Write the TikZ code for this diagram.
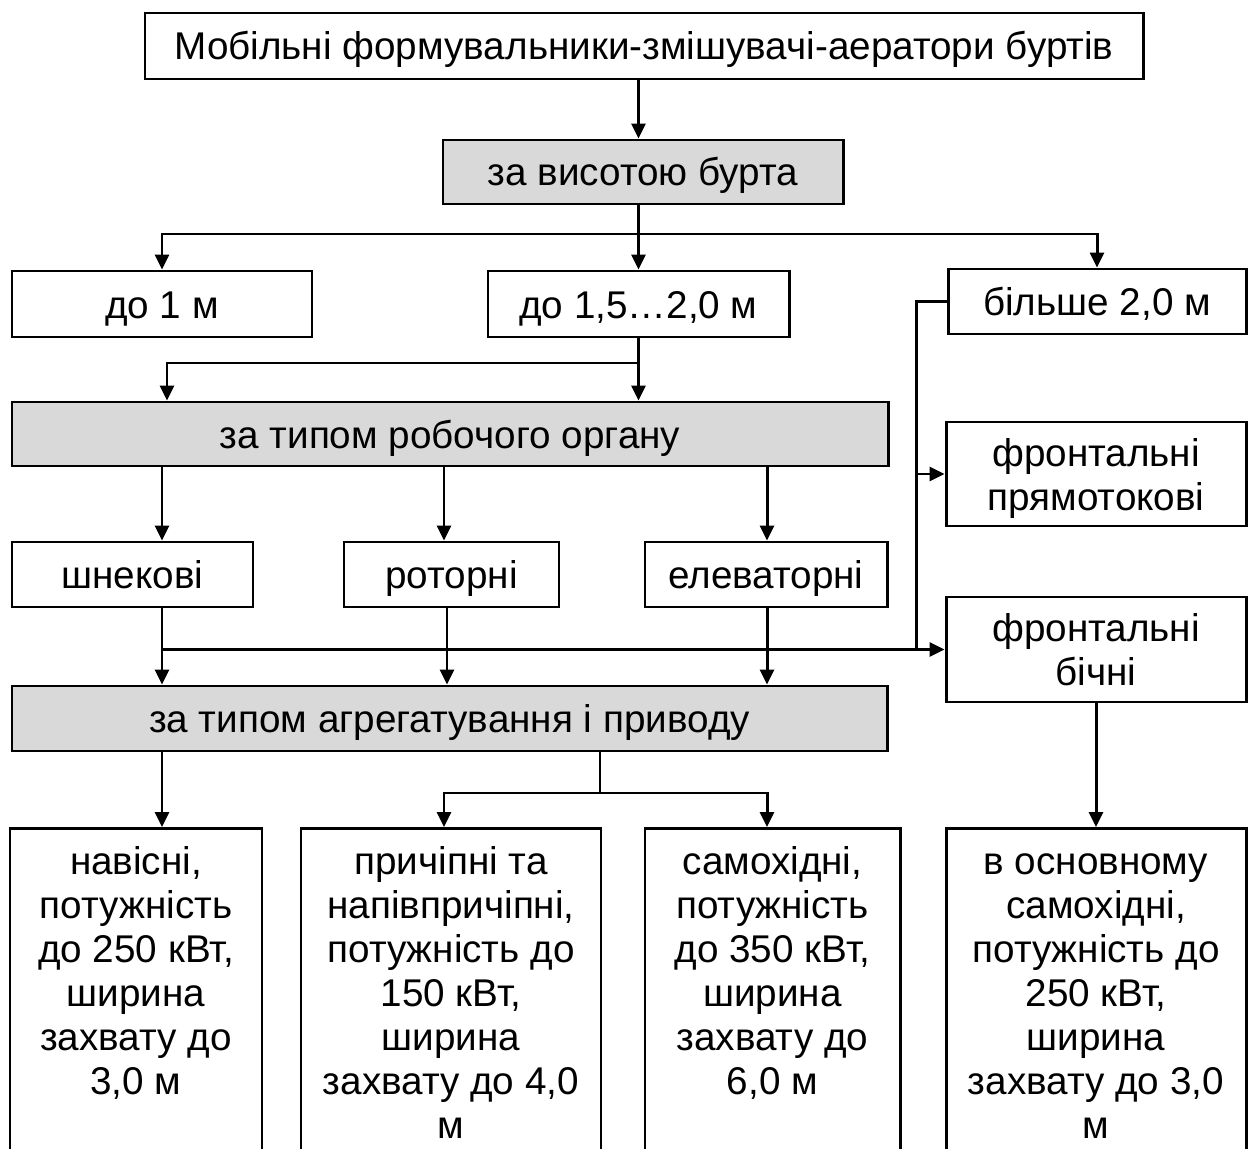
\documentclass[tikz,border=0pt]{standalone}
\usepackage{fontspec}
\setmainfont{Liberation Sans}
\usetikzlibrary{arrows.meta}
\tikzset{
	box/.style={draw, line width=1.7pt, fill=white, inner sep=0pt, align=center, font=\fontsize{22}{25}\selectfont},
	onebox/.style={box, text height=0.7cm, text depth=0.14cm},
	grbox/.style={onebox, fill=black!15},
	twobox/.style={box, text height=1.6cm, text depth=0.16cm},
	tallbox/.style={box, anchor=north, text height=0.92cm, text depth=7cm},
	ln/.style={line width=1.7pt},
	arr/.style={ln, -{Triangle[length=0.3cm,width=0.28cm]}}
}
\newcommand{\lines}[1]{\begin{tabular}[t]{@{}c@{}}#1\end{tabular}}
\begin{document}
\begin{tikzpicture}
		\useasboundingbox (0,0) rectangle (24.96,-22.98);
		\clip (0,0) rectangle (24.96,-22.98);
		%\draw[gray!50, thin, step=1] (0,0) grid (25,-23);
		% boxes
		\node[onebox, minimum width=19.96cm, minimum height=1.32cm] (top) at (12.88,-0.92) {Мобільні формувальники-змішувачі-аератори буртів};
		\node[grbox, minimum width=8cm, minimum height=1.28cm] (height) at (12.86,-3.44) {за висотою бурта};
		\node[onebox, minimum width=6cm, minimum height=1.32cm] (h1) at (3.24,-6.08) {до 1 м};
		\node[onebox, minimum width=6.02cm, minimum height=1.32cm] (h2) at (12.77,-6.08) {до 1,5…2,0 м};
		\node[onebox, minimum width=5.96cm, minimum height=1.3cm] (h3) at (21.94,-6.03) {більше 2,0 м};
		\node[grbox, minimum width=17.52cm, minimum height=1.28cm] (organ) at (9,-8.68) {за типом робочого органу};
		\node[twobox, minimum width=6cm, minimum height=2.08cm] (front1) at (21.92,-9.48) {фронтальні\\прямотокові};
		\node[onebox, minimum width=4.82cm, minimum height=1.3cm] (screw) at (2.65,-11.49) {шнекові};
		\node[onebox, minimum width=4.3cm, minimum height=1.3cm] (rotor) at (9.03,-11.49) {роторні};
		\node[onebox, minimum width=4.84cm, minimum height=1.3cm] (elev) at (15.32,-11.49) {елеваторні};
		\node[twobox, minimum width=6cm, minimum height=2.1cm] (front2) at (21.92,-12.99) {фронтальні\\бічні};
		\node[grbox, minimum width=17.5cm, minimum height=1.3cm] (drive) at (8.99,-14.37) {за типом агрегатування і приводу};
		\node[tallbox, minimum width=5.04cm] (b1) at (2.72,-16.54) {\lines{навісні,\\потужність\\до 250 кВт,\\ширина\\захвату до\\3,0 м}};
		\node[tallbox, minimum width=6cm] (b2) at (9.02,-16.54) {\lines{причіпні та\\напівпричіпні,\\потужність до\\150 кВт,\\ширина\\захвату до 4,0\\м}};
		\node[tallbox, minimum width=5.1cm] (b3) at (15.45,-16.54) {\lines{самохідні,\\потужність\\до 350 кВт,\\ширина\\захвату до\\6,0 м}};
		\node[tallbox, minimum width=6cm] (b4) at (21.92,-16.54) {\lines{в основному\\самохідні,\\потужність до\\250 кВт,\\ширина\\захвату до 3,0\\м}};
		% columns and buses
		\coordinate (ca) at (3.24,0);
		\coordinate (cb) at (8.88,0);
		\coordinate (cc) at (15.34,0);
		\coordinate (cd) at (12,0);
		\coordinate (ce) at (18.32,0);
		\coordinate (hbus) at (0,-4.68);
		\coordinate (obus) at (0,-7.26);
		\coordinate (dbus) at (0,-15.86);
		% connectors
		\draw[arr] (h2 |- top.south) -- (h2 |- height.north);
		\draw[ln] (h2 |- height.south) -- (h2 |- hbus);
		\draw[arr] (h2 |- hbus) -- (h2.north);
		\draw[arr] (h2 |- hbus) -| (ca |- h1.north);
		\draw[arr] (h2 |- hbus) -| (h3.north);
		\draw[ln] (h2.south) -- (h2.south |- obus);
		\draw[arr] (h2.south |- obus) -- (h2.south |- organ.north);
		\draw[arr] (h2.south |- obus) -| ([xshift=0.1cm]ca |- organ.north);
		\draw[ln] (h3.west) -| (ce |- front2.west);
		\draw[arr] (ce |- front1.west) -- (front1.west);
		\draw[arr] (ca |- organ.south) -- (ca |- screw.north);
		\draw[arr] (cb |- organ.south) -- (cb |- rotor.north);
		\draw[arr] (cc |- organ.south) -- (cc |- elev.north);
		\draw[arr] (ca |- screw.south) -- (ca |- drive.north);
		\draw[arr] ([xshift=0.06cm]cb |- rotor.south) -- ([xshift=0.06cm]cb |- drive.north);
		\draw[arr] (cc |- elev.south) -- (cc |- drive.north);
		\draw[arr] (ca |- front2.west) -- (front2.west);
		\draw[arr] (ca |- drive.south) -- (ca |- b1.north);
		\draw[ln] (cd |- drive.south) -- (cd |- dbus);
		\draw[arr] (cd |- dbus) -| (cb |- b2.north);
		\draw[arr] (cd |- dbus) -| (cc |- b3.north);
		\draw[arr] (front2.south -| b4) -- (b4.north);
		\end{tikzpicture}
\end{document}
